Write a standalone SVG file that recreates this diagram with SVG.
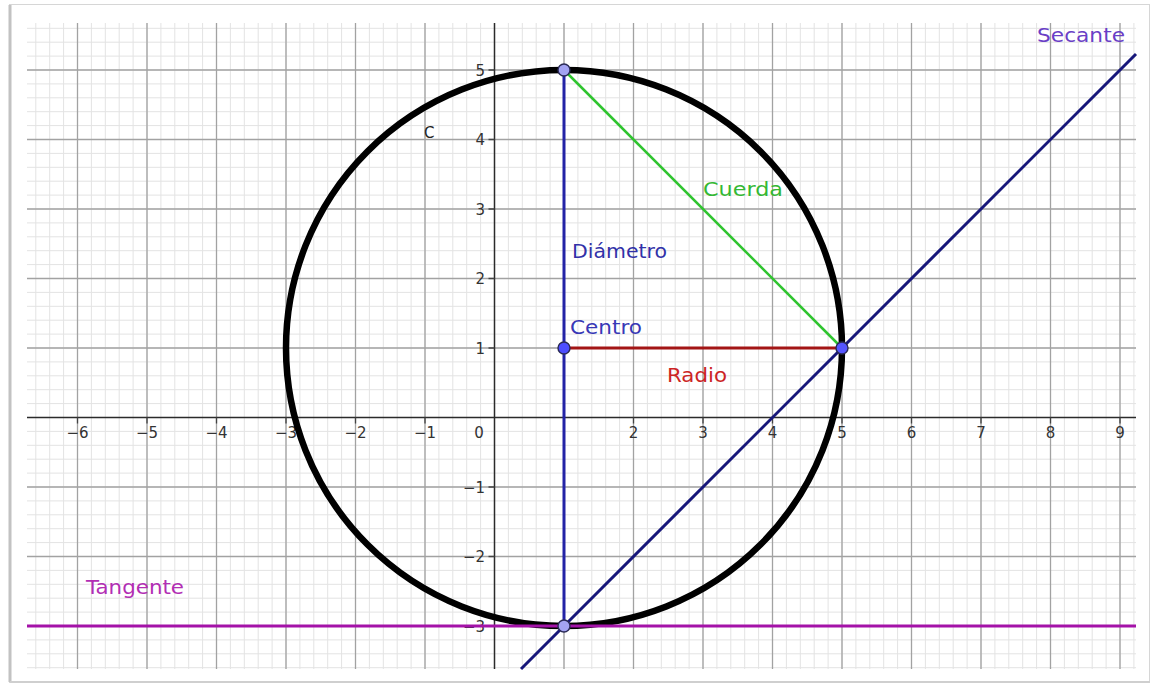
<svg xmlns="http://www.w3.org/2000/svg" width="1150" height="684" viewBox="0 0 1150 684">
<style>
.minor{stroke:#e3e3e3;stroke-width:1;fill:none}
.major{stroke:#a2a2a2;stroke-width:1.3;fill:none}
.axis{stroke:#2b2b2b;stroke-width:1.5;fill:none}
.tick{stroke:#444;stroke-width:1.3;fill:none}
.num{font-family:"DejaVu Sans","Liberation Sans",sans-serif;font-size:15px;fill:#333}
.lbl{font-family:"DejaVu Sans","Liberation Sans",sans-serif;font-size:20px}
.pt{stroke:#2a2a55;stroke-width:1.4}
</style>
<rect x="0" y="0" width="1150" height="684" fill="#ffffff"/>
<rect x="9.5" y="4.5" width="1140" height="678" fill="#ffffff" stroke="#d6d6d6" stroke-width="1"/>
<line x1="10" y1="5" x2="10" y2="682" stroke="#c2c2c2" stroke-width="3"/>
<line x1="10" y1="682" x2="1150" y2="682" stroke="#cfcfcf" stroke-width="2"/>
<g id="grid">
<path class="minor" d="M35.8,23v646m13.9,-646v646m13.9,-646v646m13.9,-646v646m13.9,-646v646m13.9,-646v646m13.9,-646v646m13.9,-646v646m13.9,-646v646m13.9,-646v646"/>
<path class="minor" d="M174.8,23v646m13.9,-646v646m13.9,-646v646m13.9,-646v646m13.9,-646v646m13.9,-646v646m13.9,-646v646m13.9,-646v646m13.9,-646v646m13.9,-646v646"/>
<path class="minor" d="M313.8,23v646m13.9,-646v646m13.9,-646v646m13.9,-646v646m13.9,-646v646m13.9,-646v646m13.9,-646v646m13.9,-646v646m13.9,-646v646m13.9,-646v646"/>
<path class="minor" d="M452.8,23v646m13.9,-646v646m13.9,-646v646m13.9,-646v646m13.9,-646v646m13.9,-646v646m13.9,-646v646m13.9,-646v646m13.9,-646v646m13.9,-646v646"/>
<path class="minor" d="M591.8,23v646m13.9,-646v646m13.9,-646v646m13.9,-646v646m13.9,-646v646m13.9,-646v646m13.9,-646v646m13.9,-646v646m13.9,-646v646m13.9,-646v646"/>
<path class="minor" d="M730.8,23v646m13.9,-646v646m13.9,-646v646m13.9,-646v646m13.9,-646v646m13.9,-646v646m13.9,-646v646m13.9,-646v646m13.9,-646v646m13.9,-646v646"/>
<path class="minor" d="M869.8,23v646m13.9,-646v646m13.9,-646v646m13.9,-646v646m13.9,-646v646m13.9,-646v646m13.9,-646v646m13.9,-646v646m13.9,-646v646m13.9,-646v646"/>
<path class="minor" d="M1008.8,23v646m13.9,-646v646m13.9,-646v646m13.9,-646v646m13.9,-646v646m13.9,-646v646m13.9,-646v646m13.9,-646v646m13.9,-646v646m13.9,-646v646"/>
<path class="minor" d="M27,28.3h1109m-1109,13.9h1109m-1109,13.9h1109m-1109,13.9h1109m-1109,13.9h1109m-1109,13.9h1109m-1109,13.9h1109m-1109,13.9h1109m-1109,13.9h1109m-1109,13.9h1109"/>
<path class="minor" d="M27,167.3h1109m-1109,13.9h1109m-1109,13.9h1109m-1109,13.9h1109m-1109,13.9h1109m-1109,13.9h1109m-1109,13.9h1109m-1109,13.9h1109m-1109,13.9h1109m-1109,13.9h1109"/>
<path class="minor" d="M27,306.3h1109m-1109,13.9h1109m-1109,13.9h1109m-1109,13.9h1109m-1109,13.9h1109m-1109,13.9h1109m-1109,13.9h1109m-1109,13.9h1109m-1109,13.9h1109m-1109,13.9h1109"/>
<path class="minor" d="M27,445.3h1109m-1109,13.9h1109m-1109,13.9h1109m-1109,13.9h1109m-1109,13.9h1109m-1109,13.9h1109m-1109,13.9h1109m-1109,13.9h1109m-1109,13.9h1109m-1109,13.9h1109"/>
<path class="minor" d="M27,584.3h1109m-1109,13.9h1109m-1109,13.9h1109m-1109,13.9h1109m-1109,13.9h1109m-1109,13.9h1109m-1109,13.9h1109"/>
<path class="major" d="M77.5,23V669M147,23V669M216.5,23V669M286,23V669M355.5,23V669M425,23V669M564,23V669M633.5,23V669M703,23V669M772.5,23V669M842,23V669M911.5,23V669M981,23V669M1050.5,23V669M1120,23V669"/>
<path class="major" d="M27,70H1136M27,139.5H1136M27,209H1136M27,278.5H1136M27,348H1136M27,487H1136M27,556.5H1136M27,626H1136"/>
<path class="axis" d="M27,417.5H1136M494.5,23V669"/>
<path class="tick" d="M77.5,417.5v6M147,417.5v6M216.5,417.5v6M286,417.5v6M355.5,417.5v6M425,417.5v6M564,417.5v6M633.5,417.5v6M703,417.5v6M772.5,417.5v6M842,417.5v6M911.5,417.5v6M981,417.5v6M1050.5,417.5v6M1120,417.5v6"/>
<path class="tick" d="M488.5,70h6M488.5,139.5h6M488.5,209h6M488.5,278.5h6M488.5,348h6M488.5,487h6M488.5,556.5h6M488.5,626h6"/>
</g>
<g id="axis-labels" class="num">
<text x="77.5" y="438" text-anchor="middle">−6</text>
<text x="147" y="438" text-anchor="middle">−5</text>
<text x="216.5" y="438" text-anchor="middle">−4</text>
<text x="286" y="438" text-anchor="middle">−3</text>
<text x="355.5" y="438" text-anchor="middle">−2</text>
<text x="425" y="438" text-anchor="middle">−1</text>
<text x="479" y="438" text-anchor="middle">0</text>
<text x="633.5" y="438" text-anchor="middle">2</text>
<text x="703" y="438" text-anchor="middle">3</text>
<text x="772.5" y="438" text-anchor="middle">4</text>
<text x="842" y="438" text-anchor="middle">5</text>
<text x="911.5" y="438" text-anchor="middle">6</text>
<text x="981" y="438" text-anchor="middle">7</text>
<text x="1050.5" y="438" text-anchor="middle">8</text>
<text x="1120" y="438" text-anchor="middle">9</text>
<text x="485" y="75.5" text-anchor="end">5</text>
<text x="485" y="145" text-anchor="end">4</text>
<text x="485" y="214.5" text-anchor="end">3</text>
<text x="485" y="284" text-anchor="end">2</text>
<text x="485" y="353.5" text-anchor="end">1</text>
<text x="485" y="492.5" text-anchor="end">−1</text>
<text x="485" y="562" text-anchor="end">−2</text>
<text x="485" y="631.5" text-anchor="end">−3</text>
</g>
<g id="circle-c">
<circle cx="564" cy="348" r="278" fill="none" stroke="#000" stroke-width="6.5"/>
<text x="424" y="138" font-family="DejaVu Sans, sans-serif" font-size="15" fill="#222">C</text>
</g>
<g id="connectors" fill="none">
<line id="tangente" x1="27" y1="626" x2="1136" y2="626" stroke="#a412a8" stroke-width="3"/>
<line id="diametro" x1="564" y1="70" x2="564" y2="626" stroke="#2323a6" stroke-width="3"/>
<line id="cuerda" x1="564" y1="70" x2="842" y2="348" stroke="#2fc42f" stroke-width="2.5"/>
<line id="radio" x1="564" y1="348" x2="842" y2="348" stroke="#a31515" stroke-width="3"/>
<line id="secante" x1="521" y1="669" x2="1136" y2="54" stroke="#17177a" stroke-width="3"/>
</g>
<g id="point-top"><circle class="pt" cx="564" cy="70" r="6" fill="#a3a3f2"/></g>
<g id="point-bottom"><circle class="pt" cx="564" cy="626" r="6" fill="#a3a3f2"/></g>
<g id="point-center"><circle class="pt" cx="564" cy="348" r="6" fill="#4d4dff"/></g>
<g id="point-right"><circle class="pt" cx="842" cy="348" r="6" fill="#5555ff"/></g>
<g id="label-secante"><text class="lbl" x="1037" y="42" fill="#6a3fc6" textLength="88" lengthAdjust="spacingAndGlyphs">Secante</text></g>
<g id="label-tangente"><text class="lbl" x="86" y="594" fill="#b22eb4" textLength="98" lengthAdjust="spacingAndGlyphs">Tangente</text></g>
<g id="label-cuerda"><text class="lbl" x="703" y="196" fill="#34b834" textLength="80" lengthAdjust="spacingAndGlyphs">Cuerda</text></g>
<g id="label-diametro"><text class="lbl" x="572" y="258" fill="#3131a8" textLength="95" lengthAdjust="spacingAndGlyphs">Diámetro</text></g>
<g id="label-centro"><text class="lbl" x="570" y="334" fill="#3838b6" textLength="72" lengthAdjust="spacingAndGlyphs">Centro</text></g>
<g id="label-radio"><text class="lbl" x="667" y="382" fill="#cc2424" textLength="60" lengthAdjust="spacingAndGlyphs">Radio</text></g>
</svg>
